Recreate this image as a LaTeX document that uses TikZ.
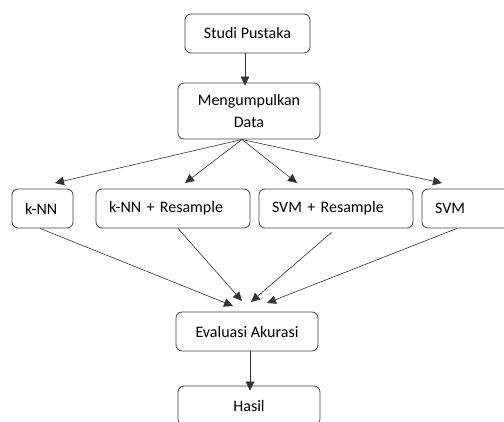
\documentclass[tikz,border=0pt]{standalone}
\usepackage{fontspec}
\setmainfont{Carlito}
\usetikzlibrary{arrows.meta}

\begin{document}
\begin{tikzpicture}[x=1pt, y=-1pt,
	box/.style={draw=black!75, thick, rounded corners=6pt, minimum height=39pt,
		inner sep=0pt, font=\fontsize{16}{22}\selectfont},
	leftbox/.style={box, align=left, inner xsep=13pt},
	arr/.style={draw=black!80, semithick, -{Triangle[length=9pt, width=8.5pt]}}]

	\useasboundingbox (0, 0) rectangle (504, 421);

	\node [box, minimum width=125pt] (studi) at (247.5, 33.5) {Studi Pustaka};
	\node [box, minimum width=142pt, minimum height=56pt, align=center] (kumpul) at (249, 111) {Mengumpulkan\\Data};

	\node [leftbox, text width=35pt] (knn) at (42.5, 208.5) {k-NN};
	\node [leftbox, text width=128pt] (knnr) at (173, 208.5) {k-NN + Resample};
	\node [leftbox, text width=128pt] (svmr) at (336, 208.5) {SVM + Resample};
	\node [leftbox, text width=84pt] (svm) at (477, 208.5) {SVM};

	\node [box, minimum width=142pt] (eval) at (247, 331.5) {Evaluasi Akurasi};
	\node [box, minimum width=142pt] (hasil) at (249, 405.5) {Hasil};

	\coordinate (fan) at (242, 139.5);
	\coordinate (t1) at (55, 183);
	\coordinate (t2) at (185, 183);
	\coordinate (t3) at (297, 183);
	\coordinate (t4) at (442, 183);

	\coordinate (e1) at (233, 306);
	\coordinate (e2) at (242, 301);
	\coordinate (e3) at (251, 302);
	\coordinate (e4) at (267, 303);

	\draw [arr] ([xshift=-2.5pt]studi.south) -- ([xshift=-2.5pt, yshift=-3pt]studi.south |- kumpul.north);

	\draw [arr] (fan) -- (t1);
	\draw [arr] (fan) -- (t2);
	\draw [arr] (fan) -- (t3);
	\draw [arr] (fan) -- (t4);

	\draw [arr] ([xshift=-2.5pt]knn.south) -- (e1);
	\draw [arr] ([xshift=5pt]knnr.south) -- (e2);
	\draw [arr] ([xshift=-4.5pt, yshift=-4pt]svmr.south) -- (e3);
	\draw [arr] ([xshift=-20pt]svm.south) -- (e4);

	\draw [arr] ([xshift=3pt]eval.south) -- ([xshift=3pt, yshift=-5pt]eval.south |- hasil.north);

\end{tikzpicture}
\end{document}
